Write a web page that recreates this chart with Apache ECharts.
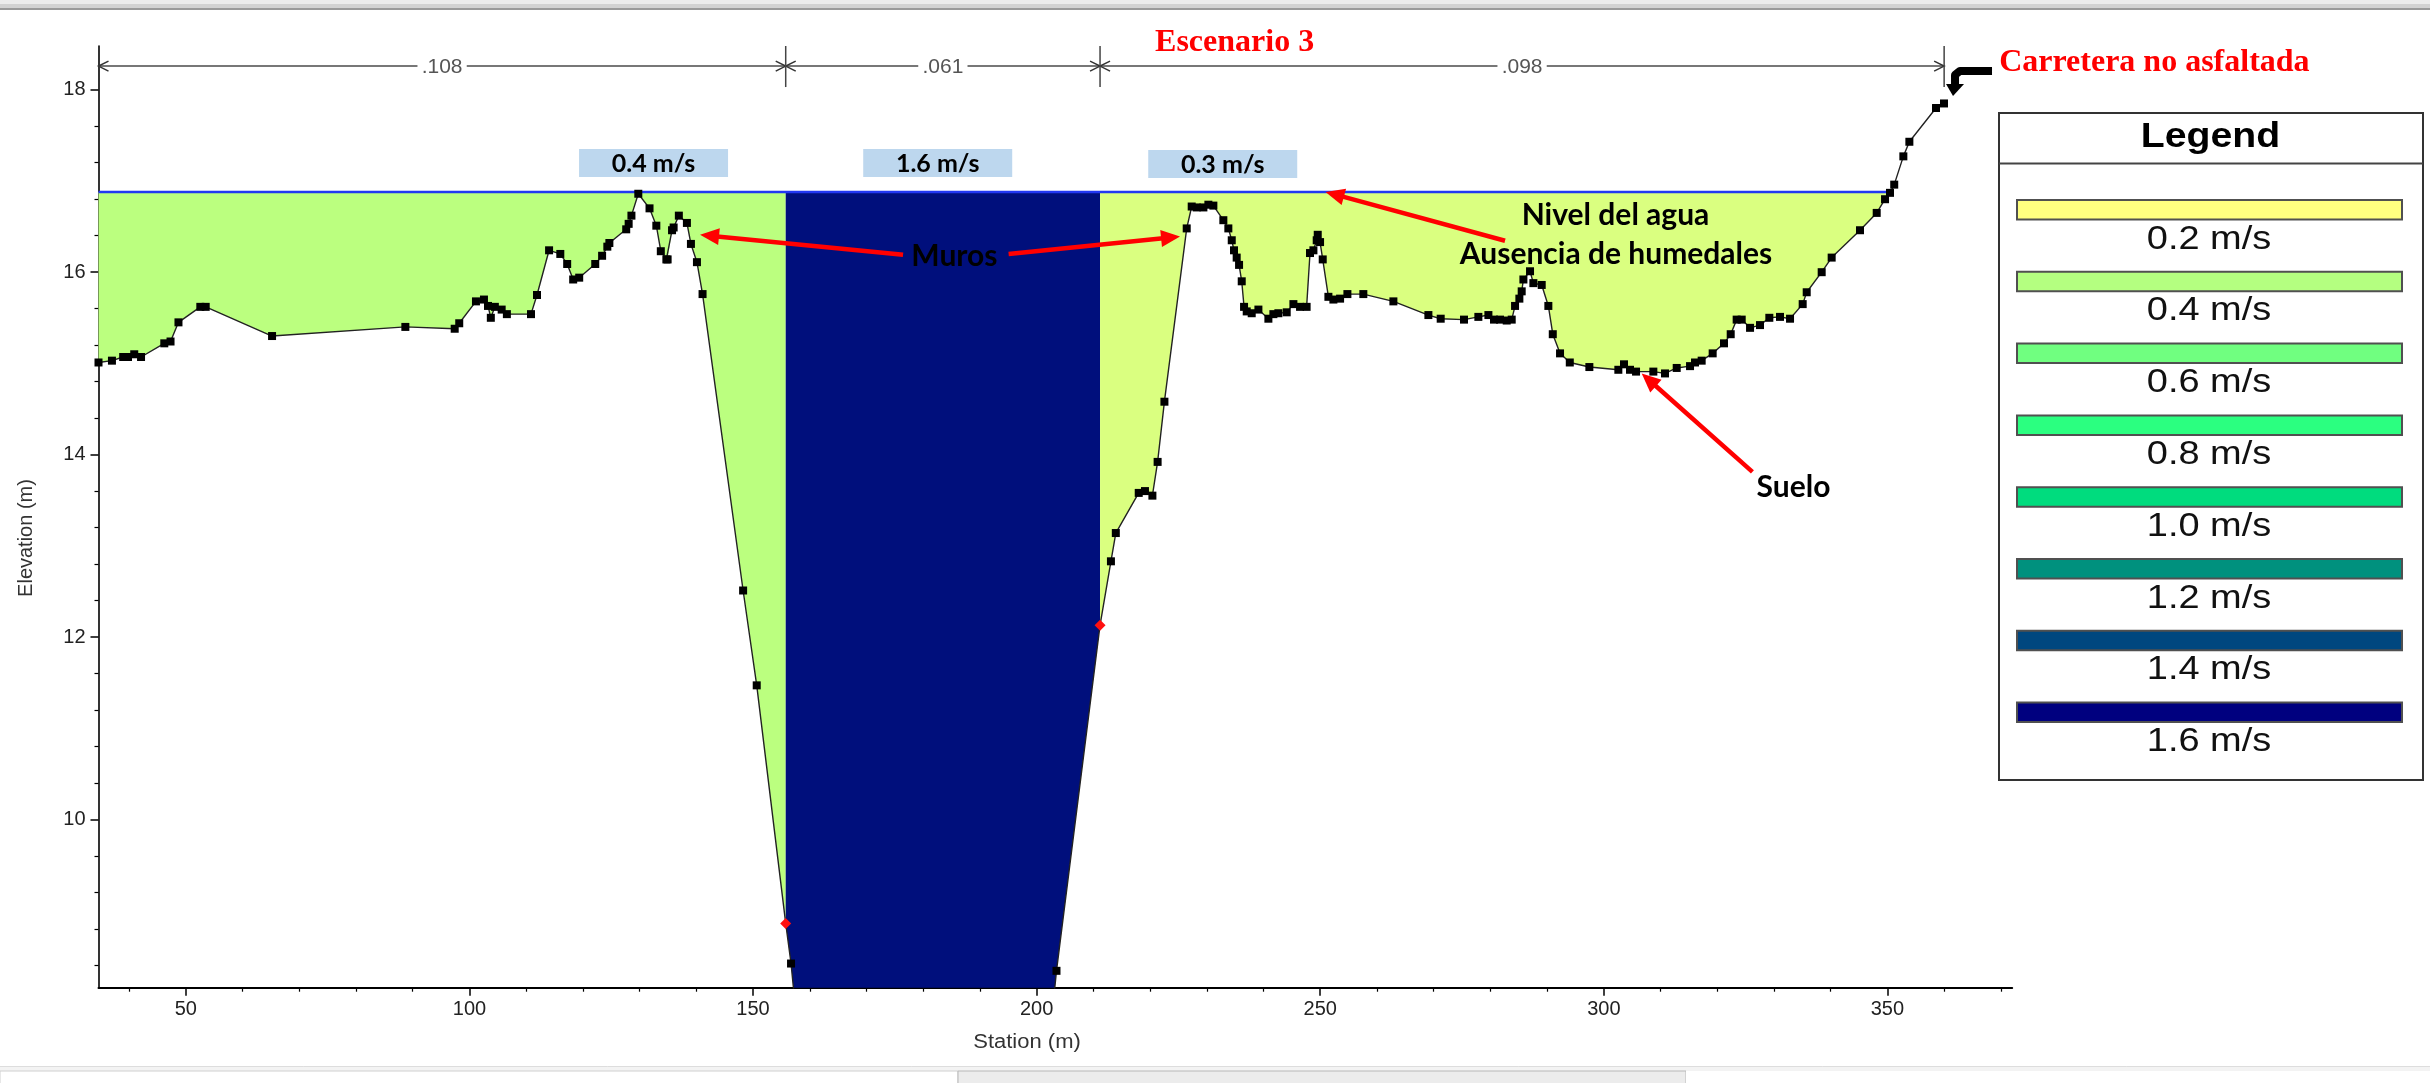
<!DOCTYPE html>
<html>
<head>
<meta charset="utf-8">
<script src="https://cdn.jsdelivr.net/npm/echarts@6/dist/echarts.min.js"></script>
<style>
  html, body { margin: 0; padding: 0; background: #ffffff; }
  #chart { width: 2430px; height: 1083px; }
</style>
</head>
<body>
<div id="chart"></div>
<script>
// ---- Cross-section survey: [station (m), ground elevation (m)] ----
const groundProfile = [
  [34.6, 15.01], [36.97, 15.03], [38.95, 15.07], [39.8, 15.07], [40.9, 15.10],
  [42.1, 15.07], [46.2, 15.22], [47.3, 15.24], [48.7, 15.45], [52.55, 15.62],
  [53.5, 15.62], [65.2, 15.30], [88.7, 15.40], [97.4, 15.38], [98.2, 15.44],
  [101.15, 15.68], [102.56, 15.70], [103.27, 15.63], [103.77, 15.50], [104.48, 15.62],
  [105.68, 15.59], [106.6, 15.54], [110.85, 15.54], [111.91, 15.75], [114.04, 16.24],
  [116.02, 16.20], [117.23, 16.09], [118.29, 15.92], [119.35, 15.94], [122.18, 16.09],
  [123.39, 16.18], [124.31, 16.28], [124.67, 16.32], [127.64, 16.47], [128.07, 16.53],
  [128.56, 16.62], [129.77, 16.86], [131.75, 16.70], [132.95, 16.51], [133.74, 16.23],
  [134.72, 16.14], [134.94, 16.14], [135.72, 16.46], [136.0, 16.49], [136.92, 16.62],
  [138.34, 16.54], [139.05, 16.31], [140.11, 16.11], [141.1, 15.76], [148.25, 12.51],
  [150.65, 11.47], [155.76, 8.86], [156.7, 8.42], [158.0, 7.60], [202.3, 7.60],
  [203.5, 8.34], [211.18, 12.13], [213.1, 12.83], [213.96, 13.14], [218.0, 13.58],
  [219.1, 13.60], [220.41, 13.55], [221.33, 13.92], [222.53, 14.58], [226.46, 16.48],
  [227.34, 16.72], [228.22, 16.71], [229.4, 16.71], [230.28, 16.74], [231.16, 16.73],
  [232.92, 16.57], [233.8, 16.48], [234.4, 16.35], [234.8, 16.24], [235.27, 16.16],
  [235.69, 16.08], [236.16, 15.90], [236.57, 15.62], [237.04, 15.57], [237.92, 15.55],
  [239.1, 15.59], [240.86, 15.49], [241.74, 15.54], [242.62, 15.55], [244.09, 15.56],
  [245.27, 15.65], [246.44, 15.62], [247.6, 15.62], [248.2, 16.21], [248.8, 16.24],
  [249.38, 16.35], [249.56, 16.41], [249.97, 16.33], [250.44, 16.14], [251.44, 15.73],
  [252.32, 15.70], [253.5, 15.71], [254.79, 15.76], [257.6, 15.76], [262.9, 15.68],
  [269.07, 15.53], [271.24, 15.49], [275.35, 15.48], [277.88, 15.51], [279.65, 15.53],
  [280.64, 15.48], [281.7, 15.48], [282.88, 15.47], [283.76, 15.48], [284.35, 15.63],
  [285.11, 15.71], [285.52, 15.79], [285.82, 15.92], [286.99, 16.01], [287.58, 15.88],
  [289.05, 15.86], [290.22, 15.63], [291.0, 15.32], [292.28, 15.11], [294.0, 15.01],
  [297.45, 14.96], [302.56, 14.93], [303.56, 14.99], [304.62, 14.93], [305.68, 14.91],
  [308.73, 14.91], [310.79, 14.89], [312.85, 14.95], [315.2, 14.97], [316.08, 15.01],
  [317.25, 15.03], [319.19, 15.11], [321.19, 15.22], [322.37, 15.32], [323.42, 15.48],
  [324.31, 15.48], [325.78, 15.39], [327.54, 15.42], [329.18, 15.50], [331.06, 15.51],
  [332.83, 15.49], [335.06, 15.65], [335.77, 15.78], [338.41, 16.00], [340.17, 16.16],
  [345.17, 16.46], [348.11, 16.65], [349.58, 16.80], [350.46, 16.87], [351.2, 16.96],
  [352.81, 17.27], [353.87, 17.43], [358.57, 17.80], [359.98, 17.85]
];

// Water surface elevation (m) and bank stations (m)
const waterSurface = 16.88;
const bankStations = [155.76, 211.18];

// Manning's n reaches across the top of the section
const manningBreaks = [34.6, 155.76, 211.18, 360];
const manningValues = ['.108', '.061', '.098'];

// Flow velocity per zone (left overbank, channel, right overbank)
const zoneVelocities = ['0.4 m/s', '1.6 m/s', '0.3 m/s'];
const zoneColors = ['#BBFF7F', '#000F7C', '#DAFF80'];

// Velocity legend
const legendLabels = ['0.2 m/s', '0.4 m/s', '0.6 m/s', '0.8 m/s', '1.0 m/s', '1.2 m/s', '1.4 m/s', '1.6 m/s'];
const legendColors = ['#FFFF80', '#B4FF80', '#70FF80', '#2BFF80', '#00DC7E', '#00917E', '#00477F', '#00007F'];

// Axis ticks
const xMajorTicks = [50, 100, 150, 200, 250, 300, 350];
const xMinorTicks = [40, 60, 70, 80, 90, 110, 120, 130, 140, 160, 170, 180, 190, 210, 220, 230, 240,
  260, 270, 280, 290, 310, 320, 330, 340, 360, 370];
const yMajorTicks = [10, 12, 14, 16, 18];
const yMinorTicks = [8.4, 8.8, 9.2, 9.6, 10.4, 10.8, 11.2, 11.6, 12.4, 12.8, 13.2, 13.6,
  14.4, 14.8, 15.2, 15.6, 16.4, 16.8, 17.2, 17.6];

// ---- helpers ----
function groundAt(s) {
  for (let i = 0; i < groundProfile.length - 1; i++) {
    const a = groundProfile[i], b = groundProfile[i + 1];
    if (s >= a[0] && s <= b[0]) {
      return a[1] + (b[1] - a[1]) * (s - a[0]) / (b[0] - a[0]);
    }
  }
  return groundProfile[groundProfile.length - 1][1];
}

// Where the right bank rises back above the water surface
function waterEdgeRight() {
  for (let i = 0; i < groundProfile.length - 1; i++) {
    const a = groundProfile[i], b = groundProfile[i + 1];
    if (a[0] > bankStations[1] && a[1] < waterSurface && b[1] >= waterSurface) {
      return a[0] + (b[0] - a[0]) * (waterSurface - a[1]) / (b[1] - a[1]);
    }
  }
  return groundProfile[groundProfile.length - 1][0];
}

const wsStart = groundProfile[0][0];
const wsEnd = waterEdgeRight();
const zoneRanges = [
  [wsStart, bankStations[0]],
  [bankStations[0], bankStations[1]],
  [bankStations[1], wsEnd]
];

function zonePolygon(a, b) {
  const pts = [[a, waterSurface], [b, waterSurface], [b, groundAt(b)]];
  for (let i = groundProfile.length - 1; i >= 0; i--) {
    const p = groundProfile[i];
    if (p[0] > a && p[0] < b) pts.push(p);
  }
  pts.push([a, groundAt(a)]);
  return pts;
}

const X_MIN = 34.6, X_MAX = 372, Y_MIN = 8.155, Y_MAX = 18.48;
const SANS = "'Liberation Sans', Arial, sans-serif";
const SERIF = "'Liberation Serif', 'Times New Roman', serif";
const CALLOUT = "Lato, 'Open Sans', sans-serif";

// Ground points: black squares, red diamonds on bank stations, hidden below the axis
const groundData = groundProfile.map(p => {
  if (bankStations.indexOf(p[0]) >= 0) {
    return { value: p, symbol: 'diamond', symbolSize: 11, itemStyle: { color: '#FF1010' } };
  }
  if (p[1] < Y_MIN) return { value: p, symbol: 'none' };
  return { value: p };
});

function annotationItems(params, api) {
  const P = (s, e) => api.coord([s, e]);
  const kids = [];

  // Manning's n dimension lines
  const yDim = 18.26;
  for (let i = 0; i < manningValues.length; i++) {
    const pa = P(manningBreaks[i], yDim), pb = P(manningBreaks[i + 1], yDim);
    kids.push({ type: 'line', shape: { x1: pa[0], y1: pa[1], x2: pb[0], y2: pb[1] },
      style: { stroke: '#4a4a4a', lineWidth: 1.6 } });
    kids.push({ type: 'polyline', shape: { points: [[pa[0] + 10, pa[1] - 5], [pa[0], pa[1]], [pa[0] + 10, pa[1] + 5]] },
      style: { stroke: '#333', lineWidth: 1.5, fill: null } });
    kids.push({ type: 'polyline', shape: { points: [[pb[0] - 10, pb[1] - 5], [pb[0], pb[1]], [pb[0] - 10, pb[1] + 5]] },
      style: { stroke: '#333', lineWidth: 1.5, fill: null } });
    const pm = P((manningBreaks[i] + manningBreaks[i + 1]) / 2, yDim);
    kids.push({ type: 'text', x: pm[0], y: pm[1] + 1, scaleX: 1.05, style: { text: manningValues[i], fill: '#555',
      font: '20px ' + SANS, align: 'center', verticalAlign: 'middle', backgroundColor: '#fff', padding: [0, 4] } });
  }
  for (let i = 1; i < manningBreaks.length; i++) {
    const t = P(manningBreaks[i], Y_MAX), b = P(manningBreaks[i], 18.03);
    kids.push({ type: 'line', shape: { x1: t[0], y1: t[1], x2: b[0], y2: b[1] },
      style: { stroke: '#444', lineWidth: 1.5 } });
  }

  // Velocity tags
  const tagAnchors = [[132.46, 17.197], [182.56, 17.197], [232.81, 17.186]];
  tagAnchors.forEach((a, i) => {
    const c = P(a[0], a[1]);
    kids.push({ type: 'rect', shape: { x: c[0] - 74.5, y: c[1] - 14, width: 149, height: 28 },
      style: { fill: '#BDD7EE' } });
    kids.push({ type: 'text', x: c[0], y: c[1] + 1, style: { text: zoneVelocities[i], fill: '#000',
      font: 'bold 25px ' + CALLOUT, align: 'center', verticalAlign: 'middle' } });
  });

  // Red callout arrows
  function redArrow(tail, head) {
    const t = P(tail[0], tail[1]), h = P(head[0], head[1]);
    const dx = h[0] - t[0], dy = h[1] - t[1], L = Math.hypot(dx, dy);
    const ux = dx / L, uy = dy / L, hl = 19, hw = 8.5;
    const bx = h[0] - ux * hl, by = h[1] - uy * hl;
    kids.push({ type: 'line', shape: { x1: t[0], y1: t[1], x2: bx + ux * 2, y2: by + uy * 2 },
      style: { stroke: '#FF0000', lineWidth: 4.5 } });
    kids.push({ type: 'polygon', shape: { points: [[h[0], h[1]], [bx - uy * hw, by + ux * hw], [bx + uy * hw, by - ux * hw]] },
      style: { fill: '#FF0000' } });
  }
  redArrow([176.45, 16.19], [140.66, 16.41]);
  redArrow([195.06, 16.20], [225.28, 16.39]);
  redArrow([282.58, 16.345], [250.93, 16.88]);
  redArrow([326.2, 13.81], [306.68, 14.89]);

  // Callout texts
  function callout(s, e, text) {
    const c = P(s, e);
    kids.push({ type: 'text', x: c[0], y: c[1], style: { text: text, fill: '#000',
      font: 'bold 30px ' + CALLOUT, align: 'center', verticalAlign: 'middle' } });
  }
  callout(185.51, 16.17, 'Muros');
  callout(302.06, 16.62, 'Nivel del agua');
  callout(302.15, 16.20, 'Ausencia de humedales');
  callout(333.44, 13.64, 'Suelo');

  // Red headings
  const esc = P(234.9, 18.52);
  kids.push({ type: 'text', x: esc[0], y: esc[1], style: { text: 'Escenario 3', fill: '#FF0000',
    font: 'bold 32px ' + SERIF, align: 'center', verticalAlign: 'middle' } });
  const road = P(397.07, 18.30);
  kids.push({ type: 'text', x: road[0], y: road[1], style: { text: 'Carretera no asfaltada', fill: '#FF0000',
    font: 'bold 32px ' + SERIF, align: 'center', verticalAlign: 'middle' } });

  // Black bent pointer to the road edge
  const tip = P(361.39, 17.943);
  kids.push({ type: 'polyline', shape: { points: [[tip[0] + 40, tip[1] - 24], [tip[0] + 8, tip[1] - 24],
      [tip[0] + 3, tip[1] - 20], [tip[0] + 3, tip[1] - 10]] },
    style: { stroke: '#000', lineWidth: 8, fill: null, lineJoin: 'round' } });
  kids.push({ type: 'polygon', shape: { points: [[tip[0] - 6, tip[1] - 11], [tip[0] + 12, tip[1] - 11], [tip[0] + 1, tip[1] + 1]] },
    style: { fill: '#000' } });

  return { type: 'group', children: kids };
}

// Legend panel
const legendGraphics = [];
legendGraphics.push({ type: 'rect', shape: { x: 1999, y: 113, width: 424, height: 667 },
  style: { fill: '#fff', stroke: '#333', lineWidth: 2 } });
legendGraphics.push({ type: 'line', shape: { x1: 1999, y1: 163.5, x2: 2423, y2: 163.5 },
  style: { stroke: '#444', lineWidth: 2 } });
legendGraphics.push({ type: 'text', x: 2210.5, y: 137, scaleX: 1.12,
  style: { text: 'Legend', font: 'bold 35px ' + SANS, fill: '#000', align: 'center', verticalAlign: 'middle' } });
legendLabels.forEach((lab, i) => {
  const y = 200 + i * 71.8;
  legendGraphics.push({ type: 'rect', shape: { x: 2017, y: y, width: 385, height: 19.5 },
    style: { fill: legendColors[i], stroke: '#505050', lineWidth: 2 } });
  legendGraphics.push({ type: 'text', x: 2209, y: y + 39.5, scaleX: 1.15,
    style: { text: lab, font: '33px ' + SANS, fill: '#111', align: 'center', verticalAlign: 'middle' } });
});

// Window chrome strips and axis titles
const frameGraphics = [
  { type: 'rect', shape: { x: 0, y: 0, width: 2430, height: 4 }, style: { fill: '#ECECEC' } },
  { type: 'rect', shape: { x: 0, y: 4, width: 2430, height: 4 }, style: { fill: '#D2D2D2' } },
  { type: 'rect', shape: { x: 0, y: 8, width: 2430, height: 2 }, style: { fill: '#9A9A9A' } },
  { type: 'rect', shape: { x: 0, y: 1066, width: 2430, height: 17 }, style: { fill: '#F3F3F3' } },
  { type: 'line', shape: { x1: 0, y1: 1066.5, x2: 2430, y2: 1066.5 }, style: { stroke: '#DDDDDD', lineWidth: 1 } },
  { type: 'rect', shape: { x: 0, y: 1071, width: 958, height: 14 }, style: { fill: '#FFFFFF', stroke: '#D0D0D0', lineWidth: 1 } },
  { type: 'rect', shape: { x: 958, y: 1071, width: 728, height: 14 }, style: { fill: '#ECECEC', stroke: '#B8B8B8', lineWidth: 1 } },
  { type: 'rect', shape: { x: 1686, y: 1071, width: 744, height: 14 }, style: { fill: '#FFFFFF' } },
  { type: 'text', x: 26, y: 538, rotation: Math.PI / 2,
    style: { text: 'Elevation (m)', font: '20px ' + SANS, fill: '#333', align: 'center', verticalAlign: 'middle' } },
  { type: 'text', x: 1027, y: 1042, scaleX: 1.1,
    style: { text: 'Station (m)', font: '20px ' + SANS, fill: '#333', align: 'center', verticalAlign: 'middle' } }
];

const chart = echarts.init(document.getElementById('chart'), null, { renderer: 'canvas', width: 2430, height: 1083 });

const axisLabelStyle = { color: '#222', fontSize: 20, fontFamily: SANS };

chart.setOption({
  animation: false,
  backgroundColor: '#ffffff',
  textStyle: { fontFamily: SANS },
  grid: { left: 98.5, top: 46, right: 417.8, bottom: 95.3, outerBoundsMode: 'none' },
  xAxis: [
    {
      type: 'value', min: X_MIN, max: X_MAX, position: 'bottom',
      axisLine: { show: true, onZero: false, lineStyle: { color: '#000', width: 2 } },
      axisTick: { show: true, customValues: xMajorTicks, length: 8, lineStyle: { color: '#000', width: 1.5 } },
      axisLabel: Object.assign({ customValues: xMajorTicks, margin: 12 }, axisLabelStyle),
      splitLine: { show: false }
    },
    {
      type: 'value', min: X_MIN, max: X_MAX, position: 'bottom',
      axisLine: { show: false, onZero: false },
      axisTick: { show: true, customValues: xMinorTicks, length: 4, lineStyle: { color: '#000', width: 1.2 } },
      axisLabel: { show: false },
      splitLine: { show: false }
    }
  ],
  yAxis: [
    {
      type: 'value', min: Y_MIN, max: Y_MAX, position: 'left',
      axisLine: { show: true, onZero: false, lineStyle: { color: '#000', width: 1.6 } },
      axisTick: { show: true, customValues: yMajorTicks, length: 8, lineStyle: { color: '#000', width: 1.5 } },
      axisLabel: Object.assign({ customValues: yMajorTicks, margin: 13 }, axisLabelStyle),
      splitLine: { show: false }
    },
    {
      type: 'value', min: Y_MIN, max: Y_MAX, position: 'left',
      axisLine: { show: false, onZero: false },
      axisTick: { show: true, customValues: yMinorTicks, length: 4, lineStyle: { color: '#000', width: 1.2 } },
      axisLabel: { show: false },
      splitLine: { show: false }
    }
  ],
  graphic: frameGraphics.concat(legendGraphics),
  series: [
    {
      // Flow areas filled between ground and water surface, one polygon per zone
      type: 'custom',
      name: 'flow',
      clip: true,
      silent: true,
      z: 1,
      data: zoneRanges.map(r => [r[0], waterSurface]),
      encode: { x: 0, y: 1 },
      renderItem: function (params, api) {
        const r = zoneRanges[params.dataIndex];
        const pts = zonePolygon(r[0], r[1]).map(p => api.coord(p));
        return { type: 'polygon', shape: { points: pts }, style: { fill: zoneColors[params.dataIndex] } };
      }
    },
    {
      type: 'line',
      name: 'Water surface',
      data: [[wsStart, waterSurface], [wsEnd, waterSurface]],
      symbol: 'none',
      lineStyle: { color: '#2238F2', width: 2.5 },
      z: 3,
      silent: true
    },
    {
      type: 'line',
      name: 'Ground',
      data: groundData,
      symbol: 'rect',
      symbolSize: 8,
      itemStyle: { color: '#000' },
      lineStyle: { color: '#222', width: 1.4 },
      clip: true,
      z: 4,
      silent: true
    },
    {
      type: 'custom',
      name: 'annotations',
      clip: false,
      silent: true,
      z: 10,
      data: [[200, 12]],
      encode: { x: 0, y: 1 },
      renderItem: annotationItems
    }
  ]
});
</script>
</body>
</html>
